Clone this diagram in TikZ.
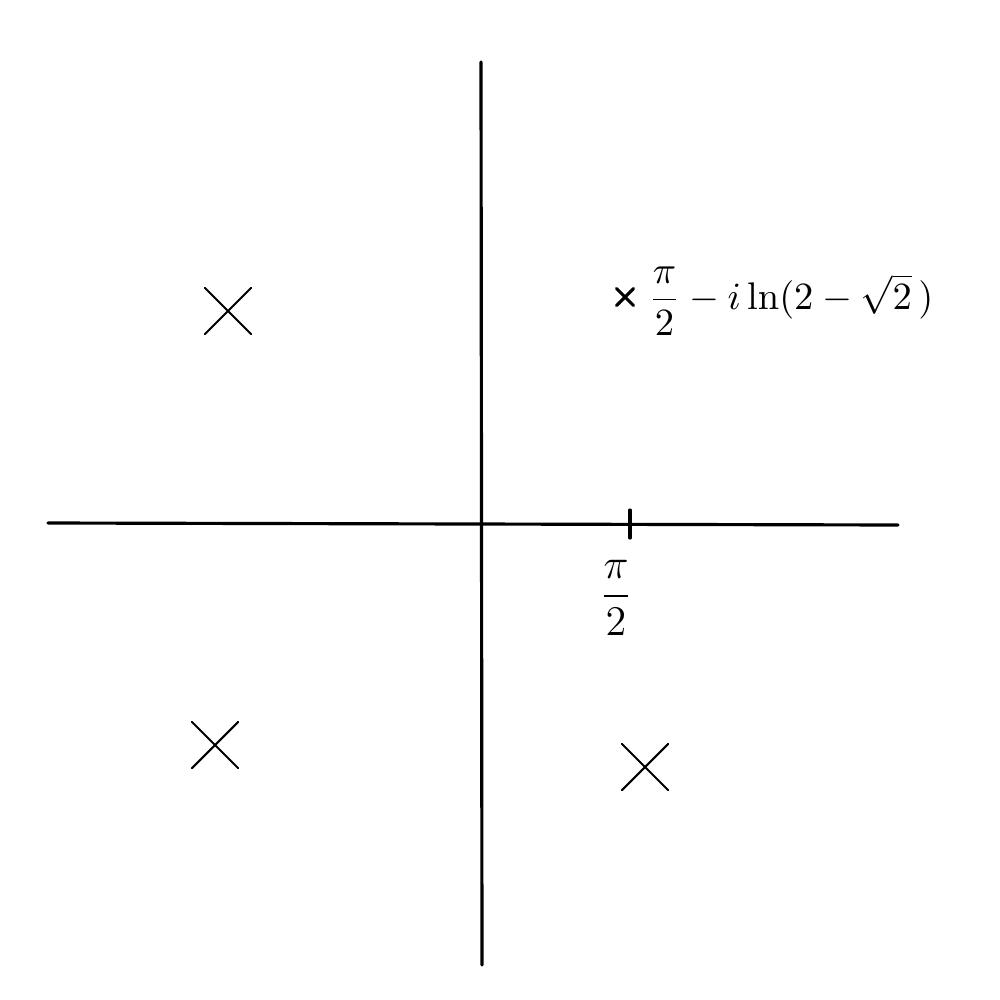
\documentclass[tikz,border=0pt]{standalone}
\usepackage{amsmath,amssymb}
\usepackage{tikz}
\usetikzlibrary{shapes.misc}

\begin{document}
\begin{tikzpicture}[x=0.01cm,y=-0.01cm,line cap=round]
    \tikzset{
      axis/.style={line width=0.9pt,black},
      pole/.style={cross out,draw=black,line width=0.6pt,minimum size=#1,inner sep=0pt},
      pole/.default=12.5pt
    }
    \useasboundingbox (0,0) rectangle (1000,1000);
    % axes
    \coordinate (xl) at (48,523);
    \coordinate (xr) at (898,525);
    \coordinate (yt) at (481,62);
    \coordinate (yb) at (482,965);
    \draw[axis] (xl) -- (xr);
    \draw[axis] (yt) -- (yb);
    % tick at pi/2
    \coordinate (tt) at (630,510);
    \coordinate (tb) at (630,538);
    \draw[axis] (tt) -- (tb);
    \node[font=\fontsize{12.5}{15}\selectfont] (half) at (616,598) {$\dfrac{\pi}{2}$};
    % poles
    \node[pole] (p1) at (228,311) {};
    \node[pole] (p2) at (215,745) {};
    \node[pole] (p3) at (645,767) {};
    \node[pole=4pt,line width=0.9pt] (p4) at (625,297) {};
    \node[anchor=west,font=\fontsize{11}{13}\selectfont,inner sep=0pt] (lab) at (648,301)
      {$\dfrac{\pi}{2}-i\ln(2-\sqrt{2}\,)$};
\end{tikzpicture}
\end{document}
